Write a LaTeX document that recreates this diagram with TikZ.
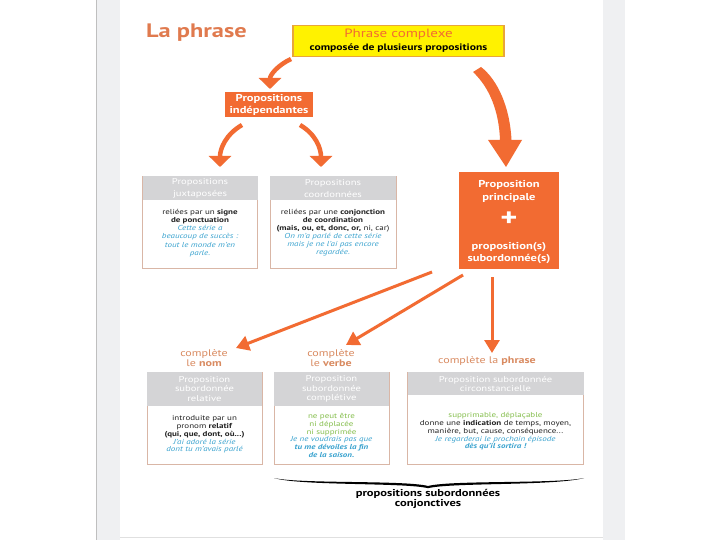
\documentclass[tikz,border=0pt]{standalone}
\usepackage{fontspec}
\setmainfont[FakeStretch=1.25]{PT Sans}
\usetikzlibrary{arrows.meta}
\definecolor{corange}{HTML}{F26B32}
\definecolor{ctitle}{HTML}{E07A4E}
\definecolor{clabel}{HTML}{D98A60}
\definecolor{cyellow}{HTML}{FFF200}
\definecolor{cyborder}{HTML}{E8A63A}
\definecolor{cborder}{HTML}{D9B6A6}
\definecolor{chead}{HTML}{D4D4D6}
\definecolor{cblue}{HTML}{3AA3CF}
\definecolor{cgreen}{HTML}{86BF4E}
\definecolor{cdark}{HTML}{222222}
\definecolor{cpage}{HTML}{EFF0F2}
\newcommand{\bl}[1]{\textcolor{cblue}{\itshape #1}}
\newcommand{\blb}[1]{\textcolor{cblue}{\bfseries\itshape #1}}
\newcommand{\gr}[1]{\textcolor{cgreen}{#1}}
\tikzset{
  frame/.style={draw=cborder, line width=0.9pt, fill=white, inner sep=0pt},
  headtext/.style={text=white, font=\fontsize{8.5}{11.5}\selectfont, align=center, inner sep=0pt},
  bodytext/.style={text=cdark, font=\fontsize{7.2}{7.8}\selectfont, align=center, inner sep=0pt},
  labeltext/.style={text=clabel, font=\fontsize{9.6}{8.5}\selectfont, align=center, inner sep=0pt},
  curvarr/.style={draw=corange, line width=4.5pt, -{Triangle[width=22pt,length=11pt]}},
  strarr/.style={draw=corange, line width=3pt, -{Triangle[width=15pt,length=13pt]}},
}
\begin{document}
\begin{tikzpicture}[x=1pt,y=-1pt]
\useasboundingbox (0,0) rectangle (720,540);
% page background
\fill[white] (0,0) rectangle (720,540);
\fill[cpage] (97,0) rectangle (120,540);
\fill[cpage] (603,0) rectangle (625,540);
\draw[line width=1pt, black!25] (96.5,0) -- (96.5,540);
\draw[line width=1pt, black!12] (120,537.5) -- (603,537.5);

% title
\node[anchor=west, text=ctitle, font=\fontsize{19.5}{24}\selectfont\bfseries, inner sep=0pt] (title) at (146,33) {La phrase};

% yellow box
\node[draw=cyborder, line width=1.2pt, fill=cyellow, minimum width=211pt, minimum height=31pt, inner sep=0pt] (complexe) at (398.5,41) {};
\node[text=corange, font=\fontsize{12}{14}\selectfont, inner sep=0pt] (complexeT) at (398.5,34.5) {Phrase complexe};
\node[text=black, font=\fontsize{9.3}{10}\selectfont\bfseries, inner sep=0pt] (complexeS) at (398.5,48.5) {composée de plusieurs propositions};

% independantes
\node[fill=corange, minimum width=88pt, minimum height=25pt, inner sep=0pt] (indep) at (269,104.5) {};
\node[text=white, font=\fontsize{10}{12}\selectfont\bfseries, align=center, inner sep=0pt] (indepT) at (269,104.5) {Propositions\\indépendantes};

% juxtaposees
\node[frame, minimum width=115pt, minimum height=92pt] (juxt) at (200,222) {};
\fill[chead] ([xshift=0.45pt,yshift=-0.45pt]juxt.north west) rectangle ([xshift=-0.45pt]juxt.east |- 0,200);
\node[headtext, font=\fontsize{8.5}{12.4}\selectfont] (juxtH) at (200,188.5) {Propositions\\juxtaposées};
\node[bodytext, font=\fontsize{7.2}{8.2}\selectfont] (juxtB) at (200,233) {reliées par un \textbf{signe}\\\textbf{de ponctuation}\\\bl{Cette série a}\\\bl{beaucoup de succès :}\\\bl{tout le monde m’en}\\\bl{parle.}};

% coordonnees
\node[frame, minimum width=126pt, minimum height=92pt] (coord) at (333,222) {};
\fill[chead] ([xshift=0.45pt,yshift=-0.45pt]coord.north west) rectangle ([xshift=-0.45pt]coord.east |- 0,200);
\node[headtext, font=\fontsize{8.5}{12.4}\selectfont] (coordH) at (333,188.5) {Propositions\\coordonnées};
\node[bodytext, font=\fontsize{7.2}{8}\selectfont] (coordB) at (333,232.5) {reliées par une \textbf{conjonction}\\\textbf{de coordination}\\\textbf{(mais, ou, et, donc, or,} ni, car)\\\bl{On m’a parlé de cette série}\\\bl{mais je ne l’ai pas encore}\\\bl{regardée.}};

% principale
\node[fill=corange, minimum width=100pt, minimum height=96pt, inner sep=0pt] (princ) at (509,220.5) {};
\node[text=white, font=\fontsize{10}{12.5}\selectfont\bfseries, align=center, inner sep=0pt] (princA) at (509,191.5) {Proposition\\principale};
\node[text=white, font=\fontsize{26}{26}\selectfont\bfseries, inner sep=0pt] (plus) at (509,219) {+};
\node[text=white, font=\fontsize{10}{12.5}\selectfont\bfseries, align=center, inner sep=0pt] (princB) at (509,253) {proposition(s)\\subordonnée(s)};

% relative
\node[frame, minimum width=115pt, minimum height=92pt] (rel) at (204.5,418) {};
\fill[chead] ([xshift=0.45pt,yshift=-0.45pt]rel.north west) rectangle ([xshift=-0.45pt]rel.east |- 0,406);
\node[headtext, font=\fontsize{8.5}{9.8}\selectfont] (relH) at (204.5,389) {Proposition\\subordonnée\\relative};
\node[bodytext] (relB) at (204.5,434.5) {introduite par un\\pronom \textbf{relatif}\\\textbf{(qui, que, dont, où...)}\\\bl{J’ai adoré la série}\\\bl{dont tu m’avais parlé}};

% completive
\node[frame, minimum width=115pt, minimum height=92pt] (compl) at (331.5,418) {};
\fill[chead] ([xshift=0.45pt,yshift=-0.45pt]compl.north west) rectangle ([xshift=-0.45pt]compl.east |- 0,406);
\node[headtext, font=\fontsize{8.5}{9.8}\selectfont] (complH) at (331.5,389) {Proposition\\subordonnée\\complétive};
\node[bodytext] (complB) at (331.5,435.5) {\gr{ne peut être}\\\gr{ni déplacée}\\\gr{ni supprimée}\\\bl{Je ne voudrais pas que}\\\blb{tu me dévoiles la fin}\\\blb{de la saison.}};

% circonstancielle
\node[frame, minimum width=176pt, minimum height=92pt] (circ) at (495.5,418) {};
\fill[chead] ([xshift=0.45pt,yshift=-0.45pt]circ.north west) rectangle ([xshift=-0.45pt]circ.east |- 0,395);
\node[headtext, font=\fontsize{8.5}{9.8}\selectfont] (circH) at (495.5,384) {Proposition subordonnée\\circonstancielle};
\node[bodytext] (circB) at (495.5,431.5) {\gr{supprimable, déplaçable}\\donne une \textbf{indication} de temps, moyen,\\manière, but, cause, conséquence...\\\bl{Je regarderai le prochain épisode}\\\blb{dès qu’il sortira !}};

% labels
\node[labeltext] (labNom) at (204,358) {complète\\le \textbf{nom}};
\node[labeltext] (labVerbe) at (331,358) {complète\\le \textbf{verbe}};
\node[labeltext] (labPhrase) at (487,361) {complète la \textbf{phrase}};

% brace and caption
\coordinate (brL) at (274,478);
\coordinate (brM) at (428,486);
\coordinate (brR) at (584,478);
\fill[black] (brL) .. controls (300,484) and (405,480) .. (brM) .. controls (451,480) and (556,484) .. (brR)
  .. controls (556,486) and (451,482.4) .. (428,488.2) .. controls (405,482.4) and (300,486) .. (brL) -- cycle;
\node[text=black, font=\fontsize{10}{8.3}\selectfont\bfseries, align=center, inner sep=0pt] (conj) at (428,499) {propositions subordonnées\\conjonctives};

% curved arrows
\coordinate (a1s) at (291,59);
\coordinate (a1t) at (270,89);
\draw[curvarr] (a1s) to[out=205, in=90] (a1t);
\coordinate (a2s) at (242,125);
\coordinate (a2t) at (220,167);
\draw[curvarr] (a2s) to[out=210, in=90] (a2t);
\coordinate (a3s) at (300,125);
\coordinate (a3t) at (321,167);
\draw[curvarr] (a3s) to[out=-30, in=90] (a3t);

% big arrow
\coordinate (bigS) at (477,69);
\coordinate (bigT) at (506,167);
\fill[corange] (473,72) .. controls (490,88) and (499,112) .. (500,140) -- (488,140) -- (bigT) -- (522,140) -- (511.5,140)
  .. controls (510,108) and (498,80) .. (481,67) -- cycle;

% straight arrows
\coordinate (s1) at (432,272);
\coordinate (s2) at (463,275);
\coordinate (s3) at (492,277);
\coordinate (t1) at (236,348);
\coordinate (t2) at (346,345);
\coordinate (t3) at (492,353);
\draw[strarr] (s1) -- (t1);
\draw[strarr] (s2) -- (t2);
\draw[strarr] (s3) -- (t3);
\end{tikzpicture}
\end{document}
